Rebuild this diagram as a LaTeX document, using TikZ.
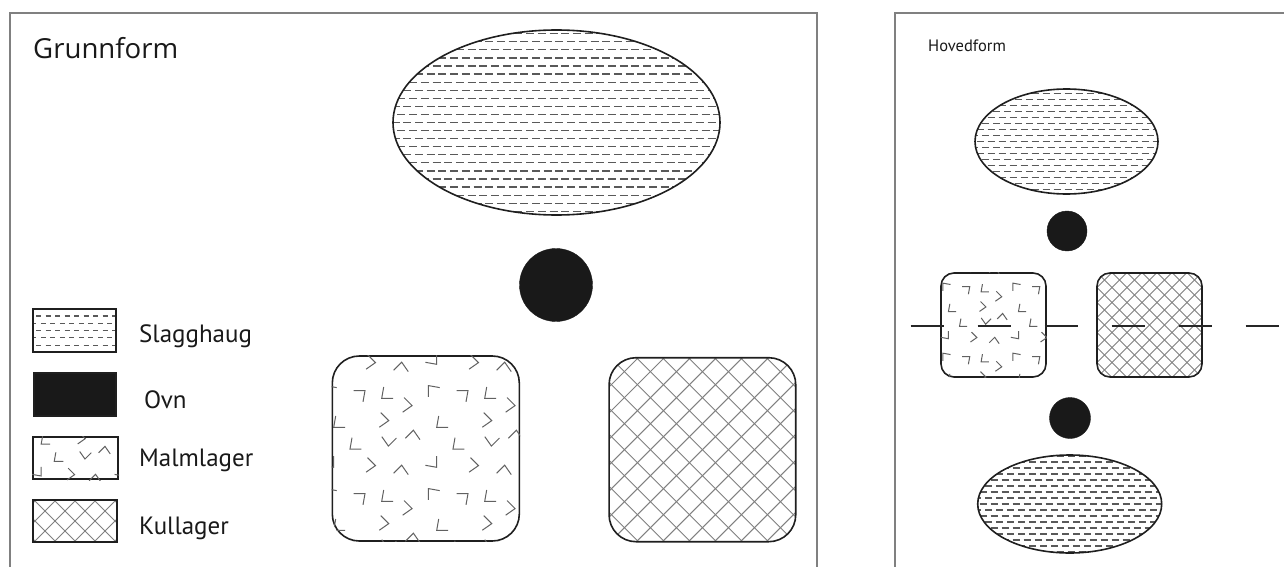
\documentclass[tikz,border=0pt]{standalone}
\usepackage{fontspec}
\newfontfamily\grfont{Open Sans}
\newfontfamily\lgfont{PT Sans}
\usetikzlibrary{shapes.geometric}

% fill patterns
\newcommand\slagrows[3]{%
  \begin{scope}[shift={(path picture bounding box.center)}]
    \pgfmathsetmacro\gp{#3-#2}
    \foreach \k in {-16,...,16}{
      \pgfmathsetmacro\ph{mod(\k+16,2)*#3/2}
      \draw[slagdash,dash pattern=on #2pt off \gp pt,dash phase=\ph pt] (-200,\k*#1) -- (200,\k*#1);
    }
  \end{scope}}
\newcommand\kulhatch[1]{%
  \begin{scope}[shift={(path picture bounding box.center)}]
    \foreach \k in {-20,...,20}{
      \draw[kulline] ({\k*#1-130},-130) -- ({\k*#1+130},130);
      \draw[kulline] ({\k*#1-130},130) -- ({\k*#1+130},-130);
    }
  \end{scope}}
% ore bits: node, tile origin x/y, tile scale, corner radius
\newcommand\malmfill[5]{%
  \begin{scope}
    \clip[rounded corners=#5] (#1.south west) rectangle (#1.north east);
    \begin{scope}[shift={(#2,#3)},scale=#4]
      \foreach \ti in {-1,...,2}
        \foreach \tj in {-1,...,2}
          \foreach \cx/\cy/\cr in {13.3/8.3/180,40/6/0,86.7/3.3/-90,58.3/18.3/135,
                                   35/33.3/135,95/35/0,41.7/51.7/45,66.7/50/225,
                                   8.3/56.7/0,21.7/78.3/135,55/85/225,85/75/90}
            \draw[chev,shift={(\ti*103+\cx,\tj*103+\cy)},rotate=\cr] (6.3,5) -- (-5,5) -- (-3,-6.3);
    \end{scope}
  \end{scope}}

\tikzset{
  frm/.style={draw=black!50,line width=1.3pt},
  shp/.style={draw=black!88,line width=1.6pt,fill=white,inner sep=0pt},
  blob/.style={shp,ellipse},
  rbox/.style={shp,rectangle,rounded corners=#1},
  lbox/.style={draw=black!88,line width=2pt,fill=white,rectangle,inner sep=0pt},
  ovn/.style={circle,fill=black!90,draw=black!90,inner sep=0pt},
  slag/.style n args={3}{path picture={\slagrows{#1}{#2}{#3}}},
  kul/.style={path picture={\kulhatch{#1}}},
  slagdash/.style={draw=black!65,line width=1.2pt},
  kulline/.style={draw=black!50,line width=0.9pt},
  chev/.style={draw=black!62,line width=1pt},
  ax/.style={draw=black!85,line width=1.6pt,dash pattern=on 33.5pt off 33.5pt},
  ttl/.style={font=\grfont\fontsize{27.6}{32}\selectfont,text=black!90,anchor=base west,inner sep=0pt},
  lgd/.style={font=\lgfont\fontsize{25}{30}\selectfont,text=black!90,anchor=base west,inner sep=0pt},
  sub/.style={font=\lgfont\fontsize{16.5}{19}\selectfont,text=black!90,anchor=base west,inner sep=0pt},
}

\begin{document}
\begin{tikzpicture}[x=1pt,y=-1pt]
  \useasboundingbox (0,0) rectangle (1284,567);
  % frames
  \draw[frm] (10,567) -- (10,13) -- (817,13) -- (817,567);
  \draw[frm] (895,567) -- (895,13) -- (1284,13);

  % left: Grunnform
  \node[ttl] (grunn) at (33,59) {Grunnform};
  \node[blob,slag={8.07}{8}{11.7},minimum width=327,minimum height=185] (slagG) at (556.5,122.5) {};
  \node[ovn,minimum size=73] (ovnG) at (556,285) {};
  \node[rbox=27,minimum width=187,minimum height=185] (malmG) at (425.8,448.5) {};
  \malmfill{malmG}{346.7}{387.3}{1}{27}
  \node[rbox=27,kul=26,minimum width=186.7,minimum height=184] (kulG) at (702.4,449.7) {};

  % legend
  \node[lbox,slag={7.3}{5}{9.5},minimum width=83,minimum height=43] (legSlag) at (74.5,330.5) {};
  \node[lbox,fill=black!90,minimum width=82,minimum height=43] (legOvn) at (75,394.5) {};
  \node[lbox,minimum width=85,minimum height=42] (legMalm) at (75.5,458) {};
  \malmfill{legMalm}{51.6}{412}{0.8}{0}
  \node[lbox,kul=20,minimum width=84,minimum height=42] (legKul) at (75,521) {};
  \node[lgd] (txSlag) at (139,342) {Slagghaug};
  \node[lgd] (txOvn) at (144,408) {Ovn};
  \node[lgd] (txMalm) at (139,466) {Malmlager};
  \node[lgd] (txKul) at (139,534) {Kullager};

  % right: Hovedform
  \node[sub] (hoved) at (928,52) {Hovedform};
  \node[blob,slag={6}{7}{11},minimum width=183,minimum height=105] (slagH1) at (1066.5,141.5) {};
  \node[ovn,minimum size=40] (ovnH1) at (1067,231) {};
  \node[rbox=13,minimum width=105,minimum height=104] (malmH) at (993.5,325) {};
  \malmfill{malmH}{957.3}{284.3}{0.68}{13}
  \node[rbox=13,kul=15,minimum width=105,minimum height=104] (kulH) at (1149.5,325) {};
  \node[ovn,minimum size=41] (ovnH2) at (1070,418) {};
  \node[blob,slag={6}{7}{11},minimum width=184,minimum height=98] (slagH2) at (1069.7,504) {};
  \coordinate (axW) at (910.7,325.7);
  \coordinate (axE) at (1284,325.7);
  \draw[ax] (axW) -- (axE);
\end{tikzpicture}
\end{document}
